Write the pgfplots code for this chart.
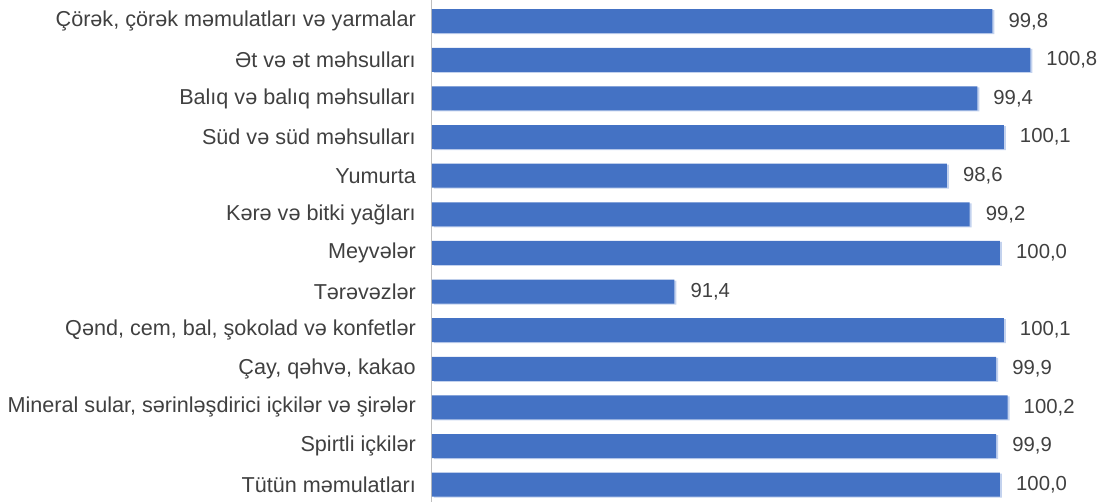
\documentclass[border=0pt]{standalone}
\usepackage{pgfplots}
\pgfplotsset{compat=1.18}
\usepackage{fontspec}
\setmainfont{Liberation Sans}
\definecolor{barblue}{HTML}{4472C4}
\definecolor{shadowblue}{HTML}{C3D2EE}
\definecolor{txt}{HTML}{404040}
\definecolor{axisgray}{HTML}{BFBFBF}
\begin{document}
\fontsize{19}{22}\selectfont
\begin{tikzpicture}
\begin{axis}[
  name=ax,
  scale only axis,
  width=674pt, height=502pt,
  xmin=85, xmax=102.8,
  ymin=-0.55, ymax=12.45,
  y dir=reverse,
  hide x axis,
  axis y line*=left,
  y axis line style={draw=axisgray, line width=1pt, -},
  ytick={0,...,12},
  yticklabels={
    {Çörək, çörək məmulatları və yarmalar},
    {Ət və ət məhsulları},
    {Balıq və balıq məhsulları},
    {Süd və süd məhsulları},
    {Yumurta},
    {Kərə və bitki yağları},
    {Meyvələr},
    {Tərəvəzlər},
    {Qənd, cem, bal, şokolad və konfetlər},
    {Çay, qəhvə, kakao},
    {Mineral sular, sərinləşdirici içkilər və şirələr},
    {Spirtli içkilər},
    {Tütün məmulatları}},
  major tick length=0pt,
  yticklabel style={font=\fontsize{21.6}{24}\selectfont, text=txt, inner sep=0pt, xshift=-16pt},
  xbar, bar width=24pt, bar shift=0pt,
  clip=false,
]
\addplot[fill=shadowblue, draw=none, xshift=2pt, yshift=-1pt] coordinates {
(99.8,0) (100.8,1) (99.4,2) (100.1,3) (98.6,4) (99.2,5) (100.0,6) (91.4,7) (100.1,8) (99.9,9) (100.2,10) (99.9,11) (100.0,12)};
\addplot[fill=barblue, draw=none,
  nodes near coords,
  nodes near coords style={anchor=west, inner sep=0pt, xshift=16pt, text=txt, font=\fontsize{20.3}{24}\selectfont,
    /pgf/number format/.cd, fixed, fixed zerofill, precision=1, use comma, assume math mode=true}
] coordinates {
(99.8,0) (100.8,1) (99.4,2) (100.1,3) (98.6,4) (99.2,5) (100.0,6) (91.4,7) (100.1,8) (99.9,9) (100.2,10) (99.9,11) (100.0,12)};
\end{axis}
\pgfresetboundingbox
\path ([xshift=-432pt]ax.south west) rectangle (ax.north east);
\end{tikzpicture}
\end{document}
